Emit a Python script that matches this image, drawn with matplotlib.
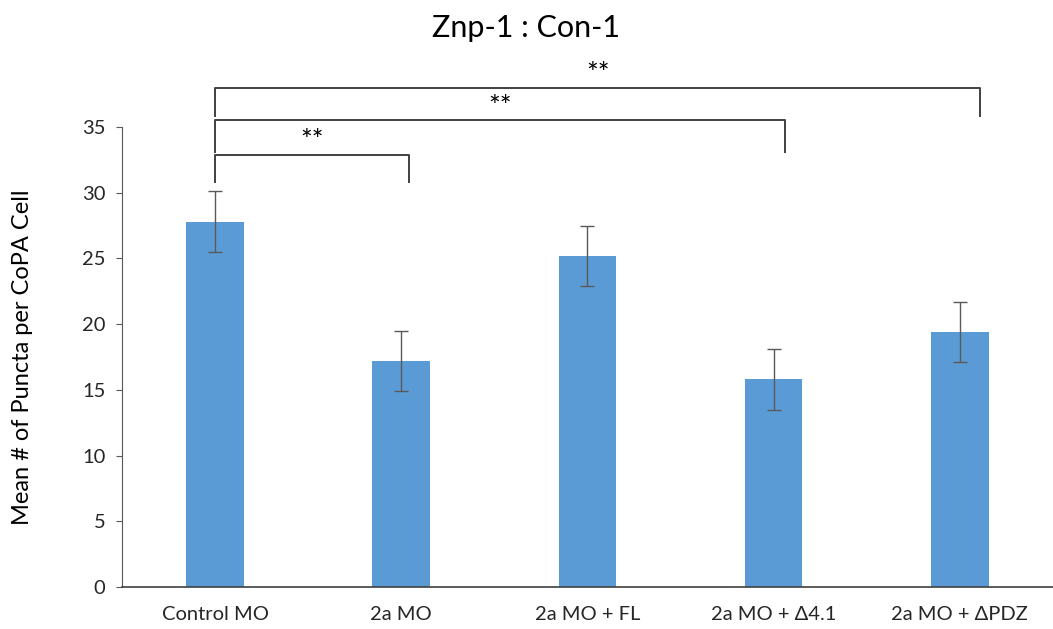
import matplotlib
matplotlib.use("Agg")
import matplotlib.pyplot as plt

categories = ["Control MO", "2a MO", "2a MO + FL", "2a MO + \u03944.1", "2a MO + \u0394PDZ"]
means = [27.8, 17.2, 25.2, 15.8, 19.4]
errors = [2.3, 2.3, 2.3, 2.3, 2.3]
yticks = [0, 5, 10, 15, 20, 25, 30, 35]
# significance brackets: (left idx, right idx, label)
comparisons = [(0, 1, "**"), (0, 3, "**"), (0, 4, "**")]

plt.rcParams['font.family'] = ['Lato', 'DejaVu Sans']

fig = plt.figure(figsize=(10.53, 6.29), dpi=100)
ax = fig.add_axes([0.1159, 0.0668, 0.884, 0.7313])

x = list(range(len(categories)))
ax.bar(x, means, width=0.31, color="#5B9BD5", zorder=2)
ax.errorbar(x, means, yerr=errors, fmt="none", ecolor="#595959",
            elinewidth=1, capsize=5, capthick=1, zorder=3)

ax.set_xlim(-0.5, 4.5)
ax.set_ylim(0, 35)
ax.set_yticks(yticks)
ax.set_xticks(x)
ax.set_xticklabels(categories, fontsize=14.5, color="#262626")
ax.tick_params(axis="y", labelsize=14.5, labelcolor="#262626", length=4,
               color="#595959", pad=8)
ax.tick_params(axis="x", length=0, pad=14)
for s in ["top", "right"]:
    ax.spines[s].set_visible(False)
ax.spines["left"].set_color("#595959")
ax.spines["bottom"].set_color("#404040")
ax.spines["bottom"].set_linewidth(1.2)

ax.set_ylabel("Mean # of Puncta per CoPA Cell", fontsize=17, color="#000000")
ax.yaxis.set_label_coords(-0.096, 0.5)
fig.text(0.5, 0.955, "Znp-1 : Con-1", ha="center", va="center", fontsize=22)

# bracket geometry (annotation layout)
tops = [32.9, 35.5, 38.0]
bottoms = [30.8, 33.1, 35.8]
right_shift = [0.04, 0.06, 0.11]
for (i, j, lab), top, bot, sh in zip(comparisons, tops, bottoms, right_shift):
    xr = j + sh
    ax.plot([i, i, xr, xr], [bot, top, top, bot], color="#404040",
            lw=1.4, clip_on=False, zorder=4)
    ax.annotate(lab, xy=((i + xr) / 2, top), xytext=(0, 9),
                textcoords="offset points", ha="center", va="center",
                fontsize=20, annotation_clip=False)

fig.savefig("out.png", dpi=100)
